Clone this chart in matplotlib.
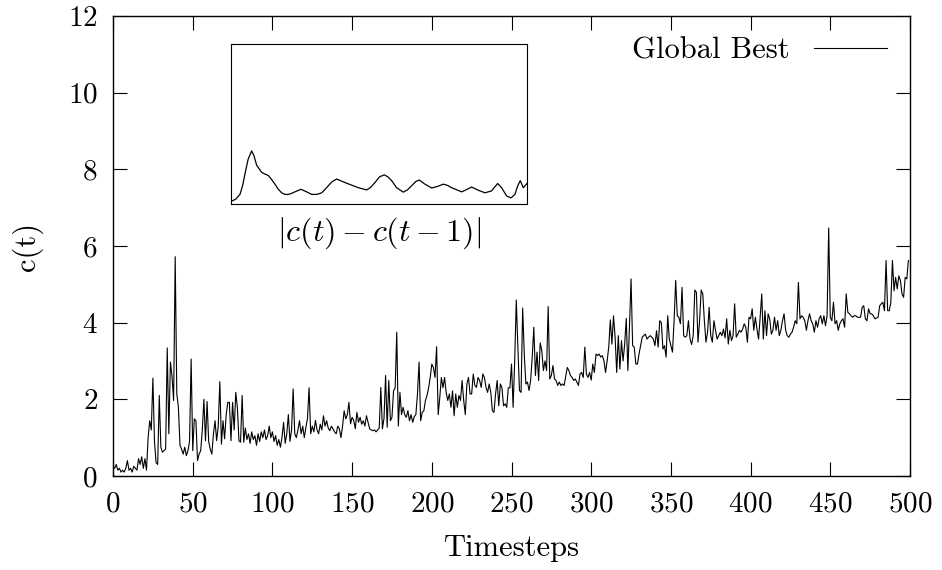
import numpy as np
import matplotlib
matplotlib.use("Agg")
import matplotlib.pyplot as plt

plt.rcParams['font.family'] = 'serif'
plt.rcParams['font.serif'] = ['cmr10', 'DejaVu Serif']
plt.rcParams['mathtext.fontset'] = 'cm'
plt.rcParams['axes.formatter.use_mathtext'] = True

# c(t) for the global best, one value per timestep
global_best = [
    0.25, 0.2, 0.3, 0.15, 0.2, 0.1, 0.15, 0.1, 0.2, 0.4,
    0.15, 0.2, 0.1, 0.25, 0.2, 0.15, 0.45, 0.3, 0.5, 0.2,
    0.45, 0.15, 1.0, 1.44, 1.2, 2.55, 0.9, 0.35, 0.3, 2.1,
    0.75, 0.62, 0.66, 0.7, 3.34, 1.1, 2.97, 2.6, 1.97, 5.72,
    2.14, 1.8, 0.8, 0.7, 0.57, 0.75, 0.53, 0.66, 0.9, 3.05,
    0.66, 1.49, 1.44, 0.4, 0.57, 0.66, 1.2, 2.0, 0.92, 1.94,
    0.9, 0.7, 0.57, 1.1, 1.44, 0.92, 1.3, 2.46, 0.83, 1.44,
    0.97, 1.6, 1.92, 1.92, 0.92, 1.92, 1.2, 2.18, 1.79, 0.92,
    0.88, 2.1, 0.88, 1.25, 0.95, 1.1, 0.85, 1.15, 0.95, 1.05,
    0.8, 1.1, 0.9, 1.15, 1.0, 1.2, 0.95, 1.05, 1.3, 1.0,
    1.15, 0.9, 1.05, 0.8, 0.95, 0.75, 1.0, 1.4, 0.85, 1.1,
    1.6, 0.9, 1.2, 2.27, 1.1, 1.0, 1.2, 1.44, 1.1, 1.3,
    1.0, 1.27, 1.5, 2.3, 1.1, 1.3, 1.15, 1.45, 1.2, 1.1,
    1.35, 1.2, 1.57, 1.3, 1.44, 1.25, 1.18, 1.3, 1.23, 1.15,
    1.1, 1.3, 1.23, 1.0, 1.3, 1.7, 1.49, 1.6, 1.92, 1.36,
    1.53, 1.45, 1.23, 1.66, 1.4, 1.53, 1.35, 1.44, 1.3, 1.57,
    1.4, 1.23, 1.2, 1.18, 1.2, 1.15, 1.2, 1.25, 2.31, 1.23,
    1.5, 2.62, 1.27, 2.49, 1.44, 1.53, 2.22, 2.3, 3.75, 1.3,
    2.18, 1.6, 1.79, 1.6, 1.53, 1.7, 1.44, 1.6, 1.4, 1.55,
    1.6, 2.14, 2.97, 1.44, 1.66, 1.7, 1.97, 2.1, 2.3, 2.57,
    2.92, 2.83, 2.57, 3.37, 1.6, 2.05, 2.57, 2.3, 2.57, 2.18,
    1.97, 2.14, 1.79, 2.22, 1.57, 2.14, 1.79, 2.1, 1.97, 2.49,
    1.97, 1.6, 2.4, 2.57, 2.14, 2.14, 2.66, 2.36, 2.31, 2.57,
    2.49, 2.31, 2.66, 2.57, 2.31, 2.18, 2.4, 2.18, 1.7, 1.66,
    2.14, 2.49, 1.83, 2.4, 2.3, 1.83, 1.88, 1.79, 2.3, 2.3,
    2.92, 1.79, 3.0, 4.59, 3.36, 2.23, 2.18, 4.38, 3.18, 2.4,
    2.45, 2.23, 2.49, 3.1, 3.88, 2.62, 3.23, 2.49, 3.47, 3.27,
    2.75, 3.0, 2.75, 4.42, 2.53, 2.62, 2.88, 2.53, 2.49, 2.36,
    2.45, 2.36, 2.4, 2.36, 2.6, 2.83, 2.75, 2.62, 2.57, 2.49,
    2.53, 2.45, 2.36, 2.66, 2.7, 2.57, 3.36, 2.66, 2.57, 2.7,
    2.5, 2.92, 2.7, 3.18, 3.14, 3.18, 3.1, 3.14, 3.0, 2.7,
    3.0, 3.36, 4.07, 3.44, 4.18, 3.62, 2.7, 3.66, 2.79, 3.53,
    3.0, 3.44, 4.11, 2.75, 3.88, 5.14, 3.4, 3.36, 2.92, 2.92,
    3.18, 3.4, 3.62, 3.66, 3.7, 3.57, 3.62, 3.66, 3.62, 3.57,
    3.4, 3.79, 3.36, 4.05, 4.0, 3.31, 3.4, 3.1, 4.18, 3.57,
    3.4, 3.23, 4.05, 5.1, 4.18, 4.14, 3.97, 4.92, 3.66, 3.62,
    3.66, 4.05, 3.57, 3.43, 3.66, 4.85, 4.79, 3.49, 4.05, 4.85,
    4.75, 4.05, 3.49, 3.75, 4.4, 3.66, 3.49, 4.05, 3.8, 3.57,
    3.66, 3.75, 3.66, 3.83, 3.6, 4.1, 3.44, 3.8, 3.53, 3.66,
    4.49, 3.62, 3.7, 3.8, 3.75, 3.83, 3.97, 3.88, 3.49, 4.14,
    4.1, 4.36, 3.8, 4.14, 3.83, 3.57, 4.14, 4.75, 3.57, 4.31,
    3.66, 4.23, 4.1, 3.7, 3.8, 4.14, 3.8, 4.05, 3.66, 3.8,
    4.05, 4.23, 3.8, 3.66, 3.62, 3.7, 3.75, 3.88, 4.05, 3.97,
    5.05, 4.1, 4.18, 4.14, 4.05, 3.8, 4.05, 4.23, 4.05, 3.97,
    3.75, 4.05, 3.88, 4.1, 4.18, 3.97, 4.18, 3.92, 4.18, 6.47,
    4.14, 4.05, 4.53, 3.97, 4.05, 3.8, 3.97, 4.05, 4.1, 3.88,
    4.75, 4.27, 4.23, 4.18, 4.14, 4.18, 4.18, 4.14, 4.14, 4.14,
    4.4, 4.44, 4.1, 4.05, 4.36, 4.23, 4.23, 4.18, 4.1, 4.12,
    4.14, 4.44, 4.49, 4.53, 4.31, 5.62, 4.31, 4.31, 4.53, 5.62,
    4.83, 5.18, 4.88, 5.22, 5.1, 4.75, 4.66, 5.18, 5.14, 5.62,
]
timesteps = np.arange(len(global_best))

# smoothed |c(t) - c(t-1)| shown in the inset
inset_t = [0, 1.1, 8, 15.2, 20, 23.6, 29, 34.9, 39, 43.4, 51.8, 57, 63.1, 68,
           74.3, 80, 85.6, 91, 96.8, 102, 108.1, 118.2, 127.8, 136.3, 145,
           153.2, 158, 164.4, 171, 178.5, 192.6, 203.8, 215.1, 229.2, 236,
           243.2, 251, 259.0, 265, 271.4, 279.8, 291.1, 298, 305.2, 312,
           318.1, 327.7, 339.0, 349, 358.7, 366, 372.7, 389.6, 398, 406.5,
           417.8, 429.1, 440.3, 445, 450.5, 457.2, 465.7, 473.0, 479.7,
           484, 488.7, 493.8, 500]
inset_diff = [0.06, 0.09, 0.15, 0.30, 0.60, 0.94, 1.40, 1.66, 1.50, 1.21,
              0.99, 0.94, 0.89, 0.78, 0.62, 0.46, 0.35, 0.30, 0.30, 0.33,
              0.38, 0.46, 0.38, 0.30, 0.30, 0.35, 0.44, 0.57, 0.70, 0.78,
              0.67, 0.59, 0.51, 0.44, 0.52, 0.67, 0.85, 0.91, 0.85, 0.73,
              0.51, 0.37, 0.44, 0.57, 0.70, 0.75, 0.62, 0.50, 0.55, 0.62,
              0.58, 0.51, 0.38, 0.45, 0.53, 0.43, 0.35, 0.41, 0.52, 0.64,
              0.51, 0.25, 0.19, 0.30, 0.55, 0.73, 0.51, 0.64]

fig = plt.figure(figsize=(9.42, 5.7), dpi=100)
ax = fig.add_axes([0.12, 0.165, 0.846, 0.807])
ax.plot(timesteps, global_best, color='black', lw=0.8, label='Global Best')
ax.set_xlim(0, 500)
ax.set_ylim(0, 12)
ax.set_xticks(range(0, 501, 50))
ax.set_yticks(range(0, 13, 2))
ax.tick_params(direction='in', top=True, right=True, length=10, width=0.8,
               labelsize=21, pad=11)
for s in ax.spines.values():
    s.set_linewidth(1.0)
ax.set_xlabel('Timesteps', fontsize=22, labelpad=12)
ax.set_ylabel('c(t)', fontsize=22, labelpad=18)
ax.legend(loc='upper right', frameon=False, markerfirst=False, fontsize=22,
          handlelength=2.4, borderaxespad=0.3, bbox_to_anchor=(0.998, 1.0))

ins = fig.add_axes([0.2452, 0.6421, 0.3142, 0.2807])
ins.plot(inset_t, inset_diff, color='black', lw=0.9)
ins.set_xlim(0, 500)
ins.set_ylim(0, 5)
ins.set_xticks([])
ins.set_yticks([])
ins.set_xlabel(r'$|c(t)-c(t-1)|$', fontsize=23, labelpad=8)

fig.savefig('out.png', dpi=100)
